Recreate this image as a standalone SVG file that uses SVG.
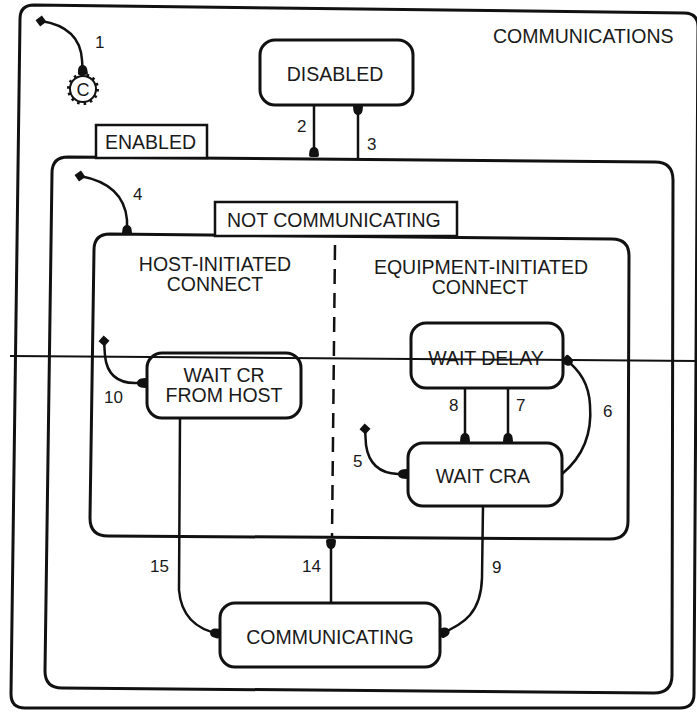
<svg xmlns="http://www.w3.org/2000/svg" width="697" height="712" viewBox="0 0 697 712">
  <defs>
    <style>
      .box{fill:none;stroke:#111;stroke-width:3;stroke-linejoin:round}
      .state{fill:#fff;stroke:#111;stroke-width:3}
      .tab{fill:#fff;stroke:#111;stroke-width:2.5}
      .t{font-family:"Liberation Sans",Arial,Helvetica,sans-serif;font-size:19.5px;fill:#1a1a1a}
      .n{font-family:"Liberation Sans",Arial,Helvetica,sans-serif;font-size:17px;fill:#1a1a1a}
      .c{text-anchor:middle}
      .edge{fill:none;stroke:#111;stroke-width:2.5;marker-end:url(#arrow)}
      .init{marker-start:url(#dot)}
      .split{fill:none;stroke:#111;stroke-width:2.5;stroke-dasharray:15 9}
    </style>
    <!-- small filled arrowhead blob, tip at the end point -->
    <marker id="arrow" markerUnits="userSpaceOnUse" orient="auto" overflow="visible" refX="0" refY="0" markerWidth="12" markerHeight="12">
      <path d="M0,-3 Q0,-5 -2,-5 L-6,-4.5 Q-10,-3.5 -10,0 Q-10,3.5 -6,4.5 L-2,5 Q0,5 0,3 Z" fill="#111"/>
    </marker>
    <!-- initial pseudo-state -->
    <marker id="dot" markerUnits="userSpaceOnUse" orient="auto" overflow="visible" refX="0" refY="0" markerWidth="12" markerHeight="12">
      <path d="M0,-5.5 L5.5,0 L0,5.5 L-5.5,0 Z" fill="#111"/>
    </marker>
  </defs>

  <rect width="697" height="712" fill="#fff"/>

  <!-- superstates -->
  <g id="communications">
    <path class="box" d="M34,5 L684,13 Q698,13 698,27 L694,694 Q694,708 680,708 L25,708 Q11,708 11,694 L20,19 Q20,5 34,5 Z"/>
    <text class="t" x="493" y="43">COMMUNICATIONS</text>
  </g>

  <g id="enabled">
    <path class="box" d="M68,157 L655,162 Q673,162 673,180 L672,675 Q672,693 654,693 L62,688 Q45,688 45,671 L52,173 Q52,157 68,157 Z"/>
    <rect class="tab" x="96" y="125" width="111" height="33"/>
    <text class="t" x="105" y="149">ENABLED</text>
  </g>

  <g id="not-communicating">
    <path class="box" d="M110,234 L612,239 Q629,239 629,256 L628,521 Q628,539 610,539 L108,536 Q90,536 90,518 L94,250 Q94,234 110,234 Z"/>
    <rect class="tab" x="215" y="202" width="242" height="34"/>
    <text class="t" x="227" y="227">NOT COMMUNICATING</text>
    <path class="split" d="M335,245 L332,537"/>
    <text class="t c" x="215" y="271">HOST-INITIATED</text>
    <text class="t c" x="215" y="291">CONNECT</text>
    <text class="t c" x="481" y="274">EQUIPMENT-INITIATED</text>
    <text class="t c" x="480" y="294">CONNECT</text>
  </g>

  <!-- history-style connector -->
  <g id="conditional">
    <circle cx="83" cy="89" r="13" fill="#fff" stroke="#111" stroke-width="2"/>
    <circle cx="83" cy="89" r="14.5" fill="none" stroke="#111" stroke-width="3" stroke-dasharray="2.5 4"/>
    <text class="t c" x="83" y="96" style="font-size:18px">C</text>
  </g>

  <!-- states -->
  <g id="disabled">
    <rect class="state" x="260" y="40" width="153" height="65" rx="15"/>
    <text class="t c" x="335" y="81">DISABLED</text>
  </g>

  <g id="wait-cr-from-host">
    <rect class="state" x="147" y="353" width="154" height="65" rx="15"/>
    <text class="t c" x="224" y="382">WAIT CR</text>
    <text class="t c" x="224" y="402">FROM HOST</text>
  </g>

  <g id="wait-delay">
    <rect class="state" x="411" y="323" width="152" height="65" rx="15"/>
    <text class="t c" x="486" y="365">WAIT DELAY</text>
  </g>

  <g id="wait-cra">
    <rect class="state" x="408" y="443" width="154" height="63" rx="15"/>
    <text class="t c" x="483" y="483">WAIT CRA</text>
  </g>

  <g id="communicating">
    <rect class="state" x="220" y="603" width="220" height="64" rx="15"/>
    <text class="t c" x="330" y="644">COMMUNICATING</text>
  </g>

  <!-- transitions -->
  <g id="connectors">
    <path class="edge init" d="M41,21 Q80,27 82,60 L83,75"/>
    <path class="edge" d="M314,105 L314,157"/>
    <path class="edge" d="M358,160 L358,105"/>
    <path class="edge init" d="M80,176 Q124,184 127,220 L127,235"/>
    <path class="edge init" d="M104,341 L105,356 Q108,383 135,383 L147,383"/>
    <path class="edge init" d="M365,429 L366,445 Q370,473 398,474 L408,474"/>
    <path class="edge" d="M465,388 L465,443"/>
    <path class="edge" d="M508,388 L508,443"/>
    <path class="edge" d="M562,474 C585,455 592,430 590,405 C589,385 581,371 564,358"/>
    <path class="edge" d="M180,418 L179,590 Q182,627 220,634"/>
    <path class="edge" d="M331,603 L331,539"/>
    <path class="edge" d="M483,506 L482,578 C481,612 465,624 440,634"/>

    <text class="n" x="95" y="48">1</text>
    <text class="n" x="297" y="132">2</text>
    <text class="n" x="367" y="150">3</text>
    <text class="n" x="133" y="200">4</text>
    <text class="n" x="353" y="467">5</text>
    <text class="n" x="603" y="417">6</text>
    <text class="n" x="516" y="411">7</text>
    <text class="n" x="449" y="411">8</text>
    <text class="n" x="492" y="573">9</text>
    <text class="n" x="104" y="403">10</text>
    <text class="n" x="302" y="572">14</text>
    <text class="n" x="150" y="572">15</text>
  </g>

  <!-- horizontal rule across the sheet -->
  <path d="M10,356 L697,361" fill="none" stroke="#111" stroke-width="2"/>
</svg>
